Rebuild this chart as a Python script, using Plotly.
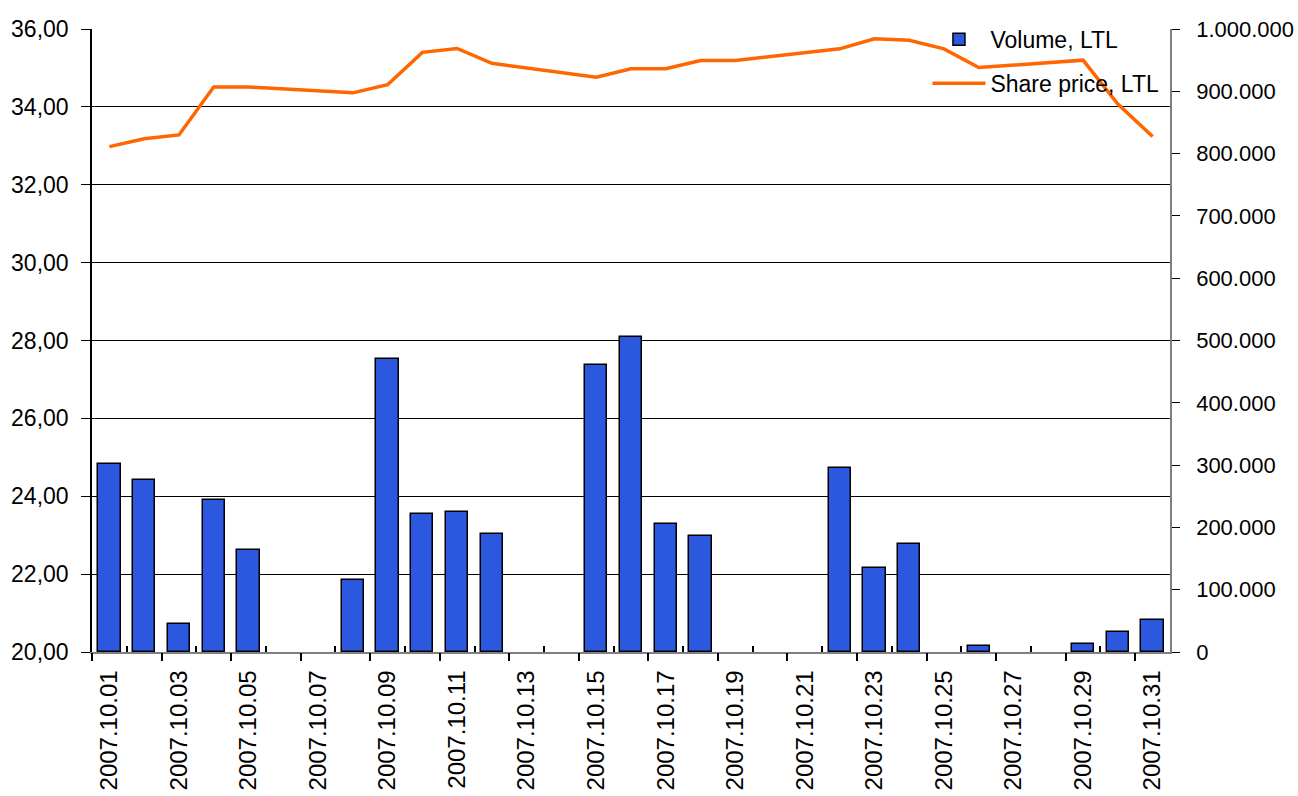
import plotly.graph_objects as go

dates = ["2007.10.01", "2007.10.02", "2007.10.03", "2007.10.04", "2007.10.05", "2007.10.06",
         "2007.10.07", "2007.10.08", "2007.10.09", "2007.10.10", "2007.10.11", "2007.10.12",
         "2007.10.13", "2007.10.14", "2007.10.15", "2007.10.16", "2007.10.17", "2007.10.18",
         "2007.10.19", "2007.10.20", "2007.10.21", "2007.10.22", "2007.10.23", "2007.10.24",
         "2007.10.25", "2007.10.26", "2007.10.27", "2007.10.28", "2007.10.29", "2007.10.30",
         "2007.10.31"]

volume = [301000, 275500, 45000, 243400, 163700, None, None, 116000, 470700, 221400,
          224600, 189300, None, None, 461400, 506400, 205300, 186000, None, None,
          None, 294800, 134600, 172700, None, 9000, None, None, 13000, 32400, 51000]

price = [32.98, 33.18, 33.28, 34.51, 34.51, None, None, 34.36, 34.57, 35.40,
         35.50, 35.12, None, None, 34.76, 34.98, 34.98, 35.19, 35.19, None,
         None, 35.49, 35.75, 35.71, 35.49, 35.01, None, None, 35.20, 34.07, 33.24]

label_dates = dates[0::2]

day = [int(s.split(".")[-1]) for s in dates]
label_pos = [int(s.split(".")[-1]) for s in label_dates]

FONT = "Liberation Sans, Arial, sans-serif"

fig = go.Figure()
fig.add_trace(go.Bar(
    x=day, y=volume, name="Volume, LTL", yaxis="y2", width=0.64,
    marker=dict(color="#2c58e0", line=dict(color="#000000", width=1.5)),
    legendgroup="v",
))
fig.add_trace(go.Scatter(
    x=day, y=price, name="Share price, LTL", mode="lines", connectgaps=True,
    line=dict(color="#ff6600", width=3.5), legendgroup="p",
))
# invisible trace to hold the tick-mark axis
fig.add_trace(go.Scatter(x=[None], y=[None], xaxis="x2", showlegend=False, hoverinfo="skip"))

major_ticks = [p - 0.5 for p in label_pos]
minor_ticks = [p + 0.5 for p in label_pos[:-1]]

fig.update_layout(
    width=1298, height=796,
    margin=dict(l=92, r=128, t=29, b=144, autoexpand=False),
    paper_bgcolor="white", plot_bgcolor="white",
    separators=",.",
    font=dict(family=FONT, size=23, color="black"),
    bargap=0,
    xaxis=dict(
        range=[0.5, 31.5], tickmode="array", tickvals=label_pos, ticktext=label_dates,
        tickangle=-90, ticks="", showgrid=False, zeroline=False,
        showline=True, linecolor="#808080", linewidth=1.5,
        tickfont=dict(size=24), ticklabelstandoff=7, automargin=False,
    ),
    xaxis2=dict(
        range=[0.5, 31.5], overlaying="x", anchor="y", side="bottom",
        tickmode="array", tickvals=major_ticks, ticks="outside", ticklen=8,
        tickcolor="#000000", tickwidth=1.5, showticklabels=False, showgrid=False,
        zeroline=False, showline=False, automargin=False,
        minor=dict(tickmode="array", tickvals=minor_ticks, ticks="inside", ticklen=6,
                   tickcolor="#000000", tickwidth=1.5, showgrid=False),
    ),
    yaxis=dict(
        range=[20, 36], dtick=2, tick0=20, tickformat=".2f",
        showgrid=True, gridcolor="#000000", gridwidth=1,
        showline=True, linecolor="#000000", linewidth=1.5,
        ticks="outside", ticklen=9, tickcolor="#000000", zeroline=False,
        tickfont=dict(size=23), ticklabelstandoff=8, automargin=False,
    ),
    yaxis2=dict(
        range=[0, 1000000], dtick=100000, tick0=0, tickformat=",d",
        overlaying="y", side="right", showgrid=False, zeroline=False,
        showline=True, linecolor="#808080", linewidth=1.5,
        ticks="outside", ticklen=8, tickcolor="#000000",
        tickfont=dict(size=22), ticklabelstandoff=12, automargin=False,
    ),
    legend=dict(
        x=0.775, y=1.018, xanchor="left", yanchor="top",
        bgcolor="rgba(0,0,0,0)", borderwidth=0,
        font=dict(size=23), itemwidth=53, traceorder="grouped", tracegroupgap=11,
    ),
    showlegend=True,
    shapes=[dict(type="rect", xref="x", yref="y", layer="between",
                 x0=24.3, x1=31.6, y0=35.8, y1=36.3,
                 fillcolor="white", line=dict(width=0))],
)

fig.write_html("out.html", config={"displayModeBar": False},
               post_script="document.body.style.margin='0';")
